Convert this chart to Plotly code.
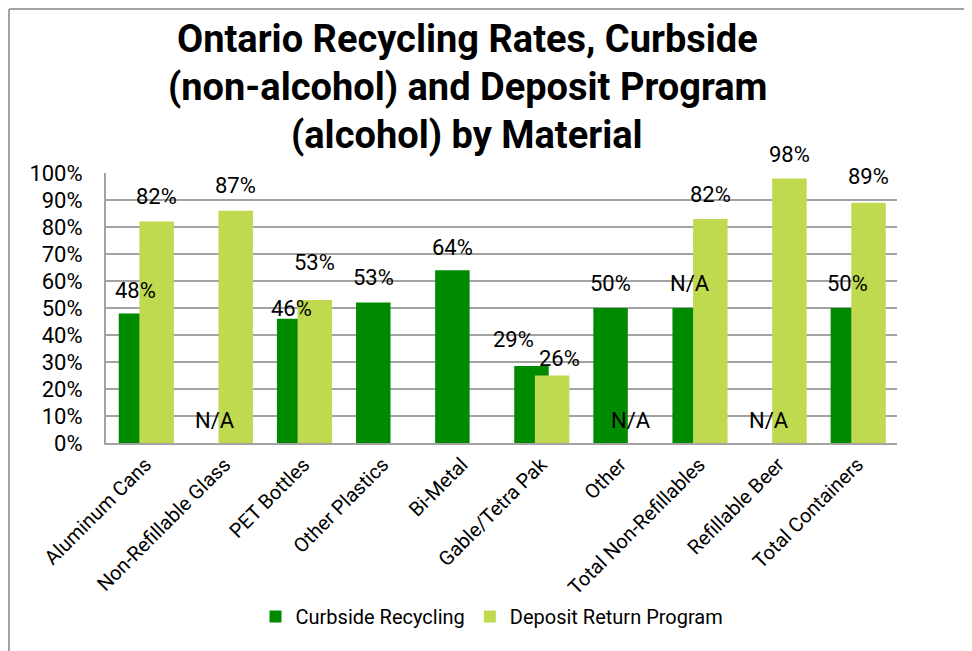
import plotly.graph_objects as go

categories = ["Aluminum Cans", "Non-Refillable Glass", "PET Bottles", "Other Plastics",
              "Bi-Metal", "Gable/Tetra Pak", "Other", "Total Non-Refillables",
              "Refillable Beer", "Total Containers"]
curbside = [48, None, 46, 52, 64, 28.5, 50, 50, None, 50]
deposit = [82, 86, 53, None, None, 25, None, 83, 98, 89]
curbside_labels = ["48%", "N/A", "46%", "53%", "64%", "29%", "50%", "N/A", "N/A", "50%"]
deposit_labels = ["82%", "87%", "53%", "", "", "26%", "N/A", "82%", "98%", "89%"]
y_ticks = [0, 10, 20, 30, 40, 50, 60, 70, 80, 90, 100]
title_lines = ["Ontario Recycling Rates, Curbside",
               "(non-alcohol) and Deposit Program",
               "(alcohol) by Material"]

# style / layout constants
DARK = "#008A00"
LIGHT = "#BFDA4E"
GRID = "#A3A3A3"
FONT = "Roboto"
BAR_W = 0.436
DARK_OFF = -0.339
LIGHT_OFF = -0.078
# label nudges (xshift, yshift) in pixels, mirroring manual placement in the source
curb_nudge = [(0, 23), (0, 23), (-3, 10), (0, 25), (0, 23), (-18, 27), (0, 25), (0, 25), (0, 23), (0, 25)]
dep_nudge = [(0, 25), (0, 25), (0, 37), (0, 24), (0, 24), (7, 17), (0, 23), (0, 24), (0, 24), (0, 26)]

idx = list(range(len(categories)))

fig = go.Figure()
fig.add_trace(go.Bar(x=idx, y=curbside, width=BAR_W, offset=DARK_OFF,
                     marker=dict(color=DARK, line=dict(width=0)),
                     name="Curbside Recycling"))
fig.add_trace(go.Bar(x=idx, y=deposit, width=BAR_W, offset=LIGHT_OFF,
                     marker=dict(color=LIGHT, line=dict(width=0)),
                     name="Deposit Return Program"))

annotations = []
for i in idx:
    for vals, labs, off, nud in ((curbside, curbside_labels, DARK_OFF, curb_nudge),
                                 (deposit, deposit_labels, LIGHT_OFF, dep_nudge)):
        if not labs[i]:
            continue
        v = vals[i] if vals[i] is not None else 0
        annotations.append(dict(x=i + off + BAR_W / 2, y=v, xref="x", yref="y",
                                text=labs[i], showarrow=False,
                                xshift=nud[i][0], yshift=nud[i][1],
                                font=dict(family=FONT, size=22, color="black")))

title_y = [1.496, 1.3185, 1.1407]
for line, ty in zip(title_lines, title_y):
    annotations.append(dict(x=0.4564, y=ty, xref="paper", yref="paper",
                            text="<b>" + line + "</b>", showarrow=False,
                            xanchor="center", yanchor="middle",
                            font=dict(family=FONT, size=38, color="black")))

shapes = [
    dict(type="line", xref="paper", yref="paper", x0=-0.1226, x1=1.1, y0=1.607, y1=1.607,
         line=dict(color=GRID, width=2)),
    dict(type="line", xref="paper", yref="paper", x0=-0.1226, x1=-0.1226, y0=1.607, y1=-0.8,
         line=dict(color=GRID, width=2)),
]

fig.update_layout(
    width=964, height=643, autosize=False,
    margin=dict(l=98, r=75, t=165, b=208),
    paper_bgcolor="white", plot_bgcolor="white",
    barmode="overlay",
    font=dict(family=FONT, size=20, color="black"),
    showlegend=True,
    legend=dict(orientation="h", x=0.488, xanchor="center", y=-0.6426, yanchor="middle",
                font=dict(family=FONT, size=20, color="black"),
                traceorder="normal", itemwidth=30),
    annotations=annotations,
    shapes=shapes,
    xaxis=dict(range=[-0.5, 9.5], tickmode="array", tickvals=idx, ticktext=categories,
               tickangle=-45, showgrid=False, showline=True, linecolor=GRID, linewidth=2,
               ticks="", tickfont=dict(family=FONT, size=20, color="black"), zeroline=False),
    yaxis=dict(range=[0, 100], tickmode="array", tickvals=y_ticks,
               ticktext=[f"{t}%" for t in y_ticks], showgrid=True, gridcolor=GRID, gridwidth=2,
               showline=True, linecolor=GRID, linewidth=2, ticks="", ticklabelstandoff=17,
               tickfont=dict(family=FONT, size=22, color="black"), zeroline=False),
)

fig.write_html("out.html")
